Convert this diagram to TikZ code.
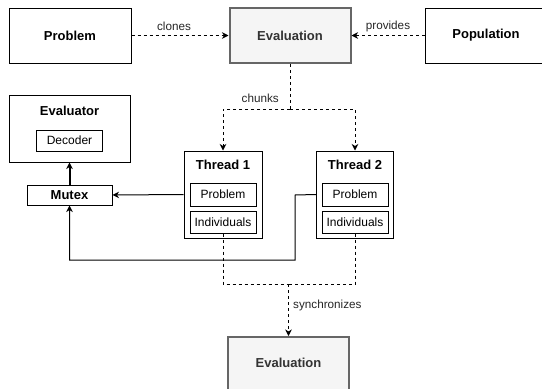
\documentclass[tikz,border=0pt]{standalone}
\usepackage{fontspec}
\setmainfont{Liberation Sans}
\usetikzlibrary{arrows.meta}
\definecolor{evfill}{HTML}{F5F5F5}
\definecolor{evdraw}{HTML}{666666}
\definecolor{evtext}{HTML}{333333}
\tikzset{
  plainbox/.style={draw=black, line width=1pt, fill=white, inner sep=0pt, minimum width=#1},
  bigbox/.style={plainbox=122pt, minimum height=55pt, font=\fontsize{13}{15}\selectfont\bfseries},
  evalbox/.style={draw=evdraw, line width=2pt, fill=evfill, text=evtext, inner sep=0pt, minimum width=121pt, minimum height=55pt, font=\fontsize{13}{15}\selectfont\bfseries},
  innerbox/.style={plainbox=66pt, font=\fontsize{12}{14}\selectfont},
  title/.style={font=\fontsize{13}{15}\selectfont\bfseries, inner sep=0pt},
  elabel/.style={font=\fontsize{11.7}{14}\selectfont, text=black!85, inner sep=0pt},
  dasharrow/.style={line width=1pt, dash pattern=on 3pt off 3pt, -{Stealth[length=6.5pt,width=6.5pt,inset=2pt]}},
  dashline/.style={line width=1pt, dash pattern=on 3pt off 3pt},
  solidarrow/.style={line width=1pt, -{Stealth[length=6.5pt,width=6.5pt,inset=2pt]}},
}
\begin{document}
\begin{tikzpicture}[x=1pt,y=-1pt]
\useasboundingbox (0,0) rectangle (542,389);
\clip (0,0) rectangle (542,389);
% top row
\node[bigbox] (problem) at (70,35.5) {Problem};
\node[evalbox] (evaltop) at (290,35.5) {Evaluation};
\node[bigbox] (population) at (486,35.5) {Population};
% evaluator
\node[plainbox=121pt, minimum height=67pt] (evaluator) at (69.5,128.5) {};
\node[title] (evaluatort) at (69.5,111) {Evaluator};
\node[innerbox, minimum height=21pt] (decoder) at (69.5,140.5) {Decoder};
\node[plainbox=85pt, minimum height=20pt, font=\fontsize{13}{15}\selectfont\bfseries] (mutex) at (69.5,195) {Mutex};
% threads
\node[plainbox=78pt, minimum height=87pt] (t1) at (223,194.5) {};
\node[title] (t1t) at (223,165) {Thread 1};
\node[innerbox, minimum height=23pt] (p1) at (223,194.5) {Problem};
\node[innerbox, minimum height=22pt] (i1) at (223,222) {Individuals};
\node[plainbox=77pt, minimum height=87pt] (t2) at (355,194.5) {};
\node[title] (t2t) at (355,165) {Thread 2};
\node[innerbox, minimum height=23pt] (p2) at (355,194.5) {Problem};
\node[innerbox, minimum height=22pt] (i2) at (355,222) {Individuals};
% bottom
\node[evalbox, anchor=north] (evalbot) at (288.5,336) {};
\node[font=\fontsize{13}{15}\selectfont\bfseries, text=evtext] (evalbott) at (288.5,363) {Evaluation};
% coordinates
\coordinate (fork1) at (290,109);
\coordinate (fork2) at (288.5,284);
\coordinate (b1) at (295,195);
\coordinate (b2) at (295,260);
\coordinate (b3) at (69.5,260);
% connectors
\draw[dasharrow] (problem.east) -- (evaltop.west);
\node[elabel] (clones) at (174,26) {clones};
\draw[dasharrow] (population.west) -- (evaltop.east);
\node[elabel] (provides) at (388,26) {provides};
\draw[dashline] (evaltop.south) -- (fork1);
\draw[dasharrow] (fork1) -| (t1.north);
\draw[dasharrow] (fork1) -| (t2.north);
\node[elabel, anchor=east] (chunks) at (279,98) {chunks};
\draw[solidarrow] (t1.west) -- (mutex.east);
\draw[solidarrow] (t2.west) -- (b1) -- (b2) -- (b3) -- (mutex.south);
\draw[line width=2pt, -{Stealth[length=6.5pt,width=6.5pt,inset=2pt]}] (mutex.north) -- (evaluator.south);
\draw[dashline] (i1.south) |- (fork2);
\draw[dashline] (i2.south) |- (fork2);
\draw[dasharrow] (fork2) -- (evalbot.north);
\node[elabel, anchor=west] (sync) at (293,305) {synchronizes};
\end{tikzpicture}
\end{document}
